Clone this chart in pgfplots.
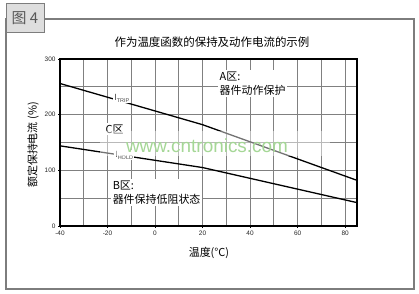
\documentclass[border=0pt]{standalone}
\usepackage{fontspec}
\setmainfont{Noto Sans CJK SC}
\newfontfamily\arialish{Liberation Sans}
\usepackage{pgfplots}
\pgfplotsset{compat=1.18}
\definecolor{framegray}{RGB}{125,125,125}
\definecolor{gridgray}{RGB}{128,128,128}
\definecolor{wmgreen}{RGB}{165,215,150}
\begin{document}
\begin{tikzpicture}[x=1bp,y=1bp]
\useasboundingbox (0,0) rectangle (419,294);
\fill[white] (0,0) rectangle (419,294);
% outer frame and figure tag
\draw[framegray, line width=1.2bp] (6,5) rectangle (414,275);
\draw[framegray, fill=black!13, line width=1bp] (6,261) rectangle (44,290);
\node[text=black!65, font=\fontsize{15}{15}\selectfont] at (25,275.5) {图 4};
% title and axis titles
\node[font=\fontsize{11.5}{12}\selectfont] at (212,252) {作为温度函数的保持及动作电流的示例};
\node[rotate=90, font=\fontsize{11}{12}\selectfont] at (33,149) {额定保持电流 (\%)};
\node[font=\fontsize{11}{12}\selectfont] at (209,41) {温度(°C)};
\begin{axis}[
  at={(60bp,68bp)}, anchor=south west,
  scale only axis, width=297bp, height=167bp,
  xmin=-40, xmax=85, ymin=0, ymax=300,
  xtick={-40,-20,0,20,40,60,80},
  minor xtick={-30,-10,10,30,50,70},
  ytick={0,100,200,300},
  minor ytick={50,150,250},
  grid=both,
  major grid style={gridgray, line width=0.8bp},
  minor grid style={gridgray, line width=0.8bp},
  axis line style={black, line width=1.2bp},
  tick style={black, line width=0.6bp},
  major tick length=2bp, minor tick length=0pt,
  tick align=outside,
  xtick pos=bottom, ytick pos=left,
  /pgf/number format/assume math mode=true,
  tick label style={font=\arialish\fontsize{6.5}{7}\selectfont, text=black!85},
  xticklabel style={yshift=1bp},
  yticklabel style={xshift=1bp},
  clip=false,
]
% rated trip current
\addplot[black, line width=1.3bp] coordinates {(-40,256) (20,182) (85,82)};
% rated hold current
\addplot[black, line width=1.3bp] coordinates {(-40,144) (20,105) (85,42)};

\node[fill=white, inner sep=1bp, text=black!70, font=\arialish\fontsize{9}{9}\selectfont]
  at (axis cs:-14,230) {I\raisebox{-2bp}{\fontsize{5.5}{5.5}\selectfont TRIP}};
\node[fill=white, inner sep=1bp, text=black!70, font=\arialish\fontsize{9}{9}\selectfont]
  at (axis cs:-13,127) {I\raisebox{-2bp}{\fontsize{5.5}{5.5}\selectfont HOLD}};
\node[fill=white, inner sep=1.5bp, font=\fontsize{11}{12}\selectfont]
  at (axis cs:-17,174) {C区};
\node[fill=white, inner sep=1.5bp, anchor=west, align=left, font=\fontsize{11}{14}\selectfont]
  at (axis cs:26.5,256) {A区:\\器件动作保护};
\node[fill=white, inner sep=1.5bp, anchor=west, align=left, font=\fontsize{11}{14}\selectfont]
  at (axis cs:-18.5,60) {B区:\\器件保持低阻状态};
\end{axis}
% site watermark
\fill[white, opacity=0.45] (100,138) rectangle (330,163);
\node[text=wmgreen, font=\arialish\fontsize{19}{19}\selectfont] at (207,148.5) {www.cntronics.com};
\end{tikzpicture}
\end{document}
